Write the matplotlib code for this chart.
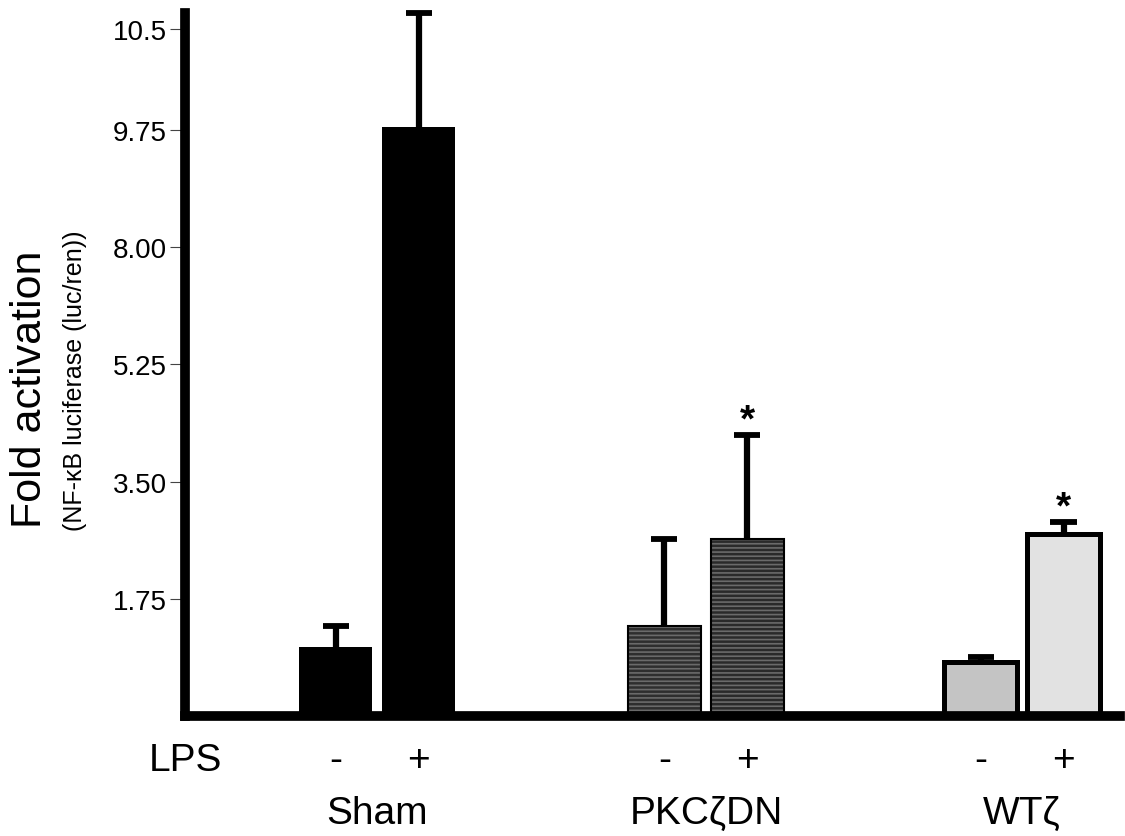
import numpy as np
import matplotlib
matplotlib.use("Agg")
import matplotlib.pyplot as plt

plt.rcParams['font.family'] = ['Liberation Sans', 'DejaVu Sans']
plt.rcParams['hatch.linewidth'] = 1.2

# data
groups = ['Sham', 'PKC\u03b6DN', 'WT\u03b6']
lps_labels = ['-', '+']
means_minus = [1.03, 1.34, 0.81]
means_plus = [9.77, 2.64, 2.72]
err_top_minus = [1.34, 2.64, 0.88]
err_top_plus = [10.62, 4.20, 2.90]
star_plus = [False, True, True]

# the y axis of the original is piecewise: equal spacing between uneven tick values
tick_vals = [1.75, 3.50, 5.25, 8.00, 9.75, 10.5]
tick_text = ['1.75', '3.50', '5.25', '8.00', '9.75', '10.5']
node_vals = [0.0, 1.75, 3.50, 5.25, 8.00, 9.75, 10.5, 11.25]
node_pos = [0.0, 1.0, 2.0, 3.0, 4.0, 5.0, 5.86, 6.72]


def forward(v):
    return np.interp(v, node_vals, node_pos)


def inverse(p):
    return np.interp(p, node_pos, node_vals)


colors_minus = ['black', '#2e2e2e', '#c4c4c4']
colors_plus = ['black', '#2a2a2a', '#e2e2e2']
hatches = [None, '----', None]
edge_w = [0, 1.5, 3.6]

fig = plt.figure(figsize=(11.25, 8.37), dpi=100)
ax = fig.add_axes([0.1644, 0.1434, 0.8311, 0.8399])
ax.set_yscale('function', functions=(forward, inverse))

centers = np.array([2.32, 6.28, 10.09])
width = 0.88
cap = 0.157

for i, g in enumerate(groups):
    xs = [centers[i] - 0.5, centers[i] + 0.5]
    vals = [means_minus[i], means_plus[i]]
    tops = [err_top_minus[i], err_top_plus[i]]
    cols = [colors_minus[i], colors_plus[i]]
    for x, v, t, c in zip(xs, vals, tops, cols):
        if hatches[i]:
            # halftone-like texture under the outline
            ax.bar(x, v, width=width, color=c, edgecolor='#6a6a6a', linewidth=0,
                   hatch=hatches[i], zorder=1.8)
            ax.bar(x, v, width=width, fill=False, edgecolor='black',
                   linewidth=edge_w[i], zorder=2)
        else:
            ax.bar(x, v, width=width, color=c, edgecolor='black',
                   linewidth=edge_w[i], zorder=2)
        ax.vlines(x, v, t, color='black', linewidth=4.5, zorder=1.5, clip_on=False)
        ax.hlines(t, x - cap, x + cap, color='black', linewidth=4.2, zorder=1.5,
                  clip_on=False)
    if star_plus[i]:
        ax.annotate('*', xy=(xs[1], tops[1]), xytext=(0, -3), textcoords='offset points',
                    ha='center', va='bottom', fontsize=28, fontweight='bold')

ax.set_xlim(0, 11.27)
ax.set_ylim(0, 10.62)
ax.set_yticks(tick_vals)
ax.set_yticklabels(tick_text)
ax.tick_params(axis='y', length=11, width=0.8, color='#444444', labelsize=20, pad=2)
ax.tick_params(axis='x', bottom=False, labelbottom=False)
ax.minorticks_off()

for s in ['top', 'right']:
    ax.spines[s].set_visible(False)
for s in ['left', 'bottom']:
    ax.spines[s].set_linewidth(7)
    ax.spines[s].set_capstyle('projecting')
    ax.spines[s].set_zorder(3)

trans = ax.get_xaxis_transform()
ax.text(-0.0, -0.0626, 'LPS', transform=trans, ha='center', va='center', fontsize=28)
for i, g in enumerate(groups):
    for k, s in enumerate(lps_labels):
        ax.text(centers[i] - 0.5 + k, -0.0626, s, transform=trans, ha='center',
                va='center', fontsize=28)
    ax.text(centers[i], -0.138, g, transform=trans, ha='center', va='center', fontsize=28)

fig.text(30 / 1125, 1 - 389 / 837, 'Fold activation', rotation=90, ha='center',
         va='center', fontsize=31)
fig.text(75 / 1125, 1 - 381 / 837, '(NF-\u03baB luciferase (luc/ren))', rotation=90,
         ha='center', va='center', fontsize=18)

fig.savefig('out.png', dpi=100)
